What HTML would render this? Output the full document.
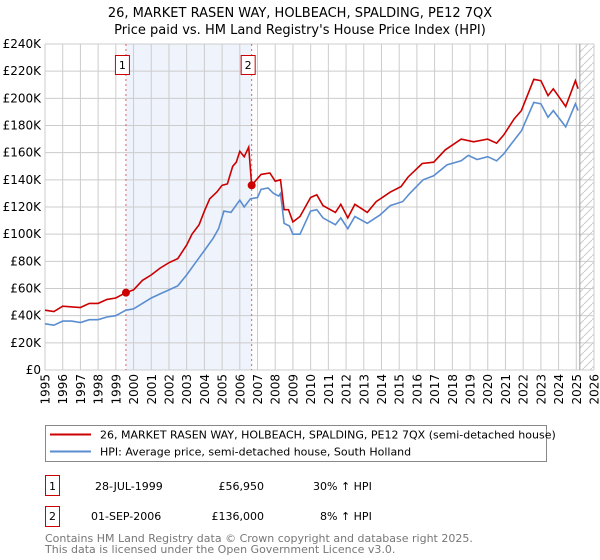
<!DOCTYPE html>
<html><head><meta charset="utf-8"><style>
body{margin:0;background:#fff;font-family:"DejaVu Sans","Liberation Sans",sans-serif;overflow:hidden;}
svg text{font-family:"DejaVu Sans","Liberation Sans",sans-serif;}
</style></head><body>
<svg id="chart" width="600" height="560" xmlns="http://www.w3.org/2000/svg" style="display:block">
<text x="300" y="17" text-anchor="middle" font-size="13">26, MARKET RASEN WAY, HOLBEACH, SPALDING, PE12 7QX</text>
<text x="300" y="34" text-anchor="middle" font-size="13">Price paid vs. HM Land Registry's House Price Index (HPI)</text>
<g id="plot"></g>
<g>
<rect x="45.5" y="425.5" width="501" height="36" fill="#fff" stroke="#888"/>
<line x1="50" y1="434.5" x2="91" y2="434.5" stroke="#cc0000" stroke-width="2"/>
<text x="100" y="438.5" font-size="11">26, MARKET RASEN WAY, HOLBEACH, SPALDING, PE12 7QX (semi-detached house)</text>
<line x1="50" y1="451.5" x2="91" y2="451.5" stroke="#5b8ed0" stroke-width="2"/>
<text x="100" y="455.5" font-size="11">HPI: Average price, semi-detached house, South Holland</text>
</g>
<g font-size="11">
<rect x="45.5" y="475.5" width="14" height="20" fill="#fff" stroke="#cc0000"/>
<text x="52.5" y="490" text-anchor="middle">1</text>
<text x="95" y="490">28-JUL-1999</text>
<text x="264" y="490" text-anchor="end">£56,950</text>
<text x="313" y="490">30% ↑ HPI</text>
</g>
<g font-size="11">
<rect x="45.5" y="506.5" width="14" height="20" fill="#fff" stroke="#cc0000"/>
<text x="52.5" y="520" text-anchor="middle">2</text>
<text x="91" y="520">01-SEP-2006</text>
<text x="264" y="520" text-anchor="end">£136,000</text>
<text x="320" y="520">8% ↑ HPI</text>
</g>
<text x="45" y="542" font-size="11" fill="#777">Contains HM Land Registry data © Crown copyright and database right 2025.</text>
<text x="45" y="553" font-size="11" fill="#777">This data is licensed under the Open Government Licence v3.0.</text>
</svg>
<script>
const yearTicks=[1995,1996,1997,1998,1999,2000,2001,2002,2003,2004,2005,2006,2007,2008,2009,2010,2011,2012,2013,2014,2015,2016,2017,2018,2019,2020,2021,2022,2023,2024,2025,2026];
const priceTicks=[0,20,40,60,80,100,120,140,160,180,200,220,240];
const hpiYears=[1995,1995.5,1996,1996.5,1997,1997.5,1998,1998.5,1999,1999.57,2000,2000.5,2001,2001.5,2002,2002.5,2003,2003.5,2004,2004.5,2004.8,2005.1,2005.5,2006,2006.25,2006.6,2007,2007.2,2007.6,2007.9,2008.2,2008.3,2008.5,2008.8,2009,2009.4,2010,2010.35,2010.7,2011.4,2011.7,2012.1,2012.5,2013.2,2013.9,2014.5,2015.2,2015.6,2016.35,2016.95,2017.7,2018.5,2018.9,2019.4,2020,2020.5,2020.9,2021.3,2021.9,2022.6,2023,2023.4,2023.7,2024.4,2024.95,2025.1];
const hpiValues=[34,33,36,36,35,37,37,39,40,44,45,49,53,56,59,62,70,79,88,97,104,117,116,125,120,126,127,133,134,130,128,130,108,106,100,100,117,118,112,107,112,104,113,108,114,121,124,130,140,143,151,154,158,155,157,154,159,166,176,197,196,186,191,179,196,191];
const priceYears=[1995,1995.5,1996,1997,1997.5,1998,1998.5,1999,1999.57,2000,2000.5,2001,2001.5,2002,2002.5,2003,2003.3,2003.7,2004,2004.3,2004.7,2005,2005.3,2005.6,2005.8,2006,2006.25,2006.5,2006.67,2007.2,2007.7,2008,2008.3,2008.5,2008.75,2009,2009.4,2010,2010.35,2010.7,2011.4,2011.7,2012.1,2012.5,2013.2,2013.7,2014.5,2015.1,2015.5,2016.3,2016.95,2017.6,2018.5,2019.2,2020,2020.5,2020.9,2021.5,2021.9,2022.6,2023,2023.4,2023.7,2024.4,2024.95,2025.1];
const priceValues=[44,43,47,46,49,49,52,53,57,59,66,70,75,79,82,92,100,107,117,126,131,136,137,150,153,161,157,164,136,144,145,139,140,118,118,109,113,127,129,121,116,122,112,122,116,124,131,135,142,152,153,162,170,168,170,167,173,185,191,214,213,202,207,194,213,207];
const saleYears=[1999.57,2006.67];
const saleValues=[56.95,136];
const saleLabels=["1","2"];

const X0=45,X1=594,Y0=370,Y1=44;
const xs=y=>X0+(y-1995)/(2026-1995)*(X1-X0);
const ys=v=>Y0-v/240*(Y0-Y1);
const NS="http://www.w3.org/2000/svg";
const g=document.getElementById('plot');
function mk(t,a){const e=document.createElementNS(NS,t);for(const k in a)e.setAttribute(k,a[k]);g.appendChild(e);return e;}
const bg=mk('rect',{x:X0,y:Y1,width:X1-X0,height:Y0-Y1,fill:'#fff'});


const shade=mk('rect',{x:xs(saleYears[0]),y:Y1,width:xs(saleYears[1])-xs(saleYears[0]),height:Y0-Y1,fill:'#eef3fc'});


const defs=mk('defs',{});
defs.innerHTML='<pattern id="hatch" width="8" height="8" patternUnits="userSpaceOnUse"><path d="M0,8 L8,0" stroke="#ccc" stroke-width="1"/></pattern>';
const hx=xs(2025.2);
const hatch=mk('rect',{x:hx,y:Y1,width:X1-hx,height:Y0-Y1,fill:'url(#hatch)'});


yearTicks.forEach(y=>{const l=mk('line',{x1:xs(y),x2:xs(y),y1:Y1,y2:Y0,stroke:'#ccc'});


const t=mk('text',{x:0,y:0,'text-anchor':'end','font-size':12,transform:'translate('+(xs(y)+4.5)+','+(Y0+4)+') rotate(-90)'});t.textContent=y;

});
priceTicks.forEach(v=>{const l=mk('line',{x1:X0,x2:X1,y1:ys(v),y2:ys(v),stroke:'#ccc'});


const t=mk('text',{x:X0-4,y:ys(v)+4,'text-anchor':'end','font-size':12});t.textContent=v===0?'£0':'£'+v+'K';

});
const nl=mk('line',{x1:hx,x2:hx,y1:Y1,y2:Y0,stroke:'#999','stroke-width':1});


saleYears.forEach((y,i)=>{const l=mk('line',{x1:xs(y),x2:xs(y),y1:Y1,y2:Y0,stroke:'#e06060','stroke-dasharray':'2,3'});


const r=mk('rect',{x:xs(y)-10.5,y:55.5,width:14,height:19,fill:'#fff',stroke:'#cc0000'});


const t=mk('text',{x:xs(y)-3.5,y:69,'text-anchor':'middle','font-size':11});t.textContent=saleLabels[i];

});
function path(xa,va){return xa.map((y,i)=>(i?'L':'M')+xs(y).toFixed(1)+','+ys(va[i]).toFixed(1)).join('');}
const hp=mk('path',{d:path(hpiYears,hpiValues),fill:'none',stroke:'#5b8ed0','stroke-width':1.6});


const pp=mk('path',{d:path(priceYears,priceValues),fill:'none',stroke:'#cc0000','stroke-width':1.6});


saleYears.forEach((y,i)=>{const c=mk('circle',{cx:xs(y),cy:ys(saleValues[i]),r:4,fill:'#cc0000'});

});
</script>
</body></html>
